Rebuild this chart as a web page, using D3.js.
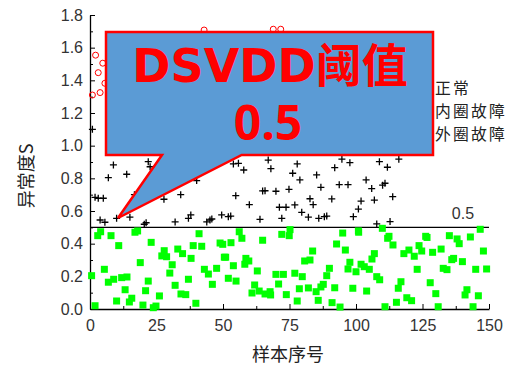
<!DOCTYPE html>
<html>
<head>
<meta charset="utf-8">
<script src="https://cdn.jsdelivr.net/npm/d3@7"></script>
<style>
  html, body { margin: 0; padding: 0; background: #fff; }
  svg { display: block; }
</style>
</head>
<body>
<svg id="chart" width="510" height="368"></svg>
<script>
// Anomaly scores per sample index, one array per bearing state
const normal = [
  [2.9,0.449],[4.0,0.473],[7.9,0.449],[10.8,0.388],[16.9,0.470],[17.9,0.478],[23.0,0.408],[27.9,0.357],[27.0,0.325],[28.8,0.320],
  [33.0,0.367],[34.8,0.339],[38.8,0.388],[42.0,0.384],[41.0,0.461],[38.0,0.310],[48.9,0.404],[50.5,0.317],[18.9,0.284],[30.9,0.271],
  [5.4,0.243],[0.6,0.204],[6.9,0.164],[8.9,0.182],[11.9,0.192],[13.9,0.196],[21.9,0.171],[30.0,0.220],[37.0,0.182],[43.0,0.243],
  [44.5,0.214],[47.6,0.249],[46.0,0.151],[32.0,0.145],[13.2,0.118],[20.9,0.112],[34.2,0.092],[36.0,0.088],[26.1,0.080],[15.7,0.066],
  [14.8,0.043],[10.0,0.049],[39.8,0.035],[1.9,0.020],[19.9,0.024],[24.8,0.018],[23.8,0.008],
  [56.1,0.473],[57.1,0.433],[49.9,0.396],[53.0,0.406],[64.9,0.421],[72.1,0.457],[75.2,0.486],[74.9,0.449],[95.0,0.465],[92.7,0.398],
  [96.0,0.361],[101.0,0.470],[83.7,0.355],[80.7,0.294],[82.7,0.300],[51.0,0.317],[58.6,0.310],[59.7,0.294],[58.2,0.274],[53.9,0.265],
  [62.9,0.233],[69.9,0.212],[72.7,0.212],[77.0,0.219],[79.8,0.198],[90.0,0.249],[89.0,0.204],[97.7,0.286],[97.0,0.245],[100.0,0.228],
  [52.0,0.188],[54.9,0.171],[61.9,0.147],[70.9,0.153],[78.7,0.124],[82.1,0.129],[87.7,0.151],[86.8,0.135],[92.0,0.130],[98.8,0.127],
  [60.9,0.098],[63.6,0.110],[65.8,0.092],[67.9,0.086],[67.7,0.106],[73.8,0.088],[85.0,0.106],[77.9,0.049],[85.8,0.053],[91.0,0.039],
  [94.0,0.012],
  [100.9,0.478],[109.9,0.494],[146.7,0.488],[112.4,0.445],[111.9,0.433],[126.2,0.445],[126.7,0.438],[135.1,0.449],[138.0,0.429],[138.8,0.400],
  [143.0,0.441],[113.9,0.392],[106.9,0.339],[106.0,0.306],[119.9,0.361],[118.0,0.339],[121.9,0.323],[123.7,0.388],[124.7,0.355],[128.8,0.347],
  [132.0,0.367],[136.7,0.310],[136.0,0.302],[140.0,0.290],[147.9,0.355],[101.9,0.274],[103.1,0.259],[105.0,0.243],[123.0,0.243],[132.8,0.249],
  [134.2,0.241],[145.0,0.243],[149.1,0.245],[107.8,0.198],[108.9,0.179],[116.9,0.167],[115.9,0.127],[127.9,0.161],[141.7,0.118],[141.0,0.086],
  [146.0,0.081],[104.0,0.110],[130.0,0.094],[119.1,0.069],[120.9,0.051],[115.2,0.041],[110.9,0.014],[130.9,0.014],[144.0,0.014]
];

const innerFault = [
  [0.9,1.100],[8.8,0.882],[6.9,0.804],[13.8,0.825],[21.9,0.902],[22.6,0.871],[1.9,0.684],[3.1,0.678],[5.0,0.678],[3.8,0.545],
  [5.6,0.531],[10.0,0.555],[15.0,0.562],[16.7,0.700],[27.8,0.672],[34.1,0.700],[40.1,0.786],[53.9,0.888],[55.8,0.892],[57.8,0.851],
  [54.8,0.694],[59.9,0.639],[32.0,0.533],[20.4,0.519],[21.1,0.528],[37.0,0.555],[37.9,0.576],[43.9,0.533],[45.1,0.545],[45.8,0.551],
  [49.5,0.576],[52.0,0.565],[52.9,0.569],
  [67.0,0.912],[68.0,0.859],[77.9,0.888],[76.2,0.831],[78.9,0.790],[85.2,0.821],[64.9,0.723],[65.8,0.724],[69.9,0.721],[74.8,0.733],
  [86.8,0.745],[94.7,0.917],[97.7,0.896],[92.0,0.865],[108.8,0.902],[111.8,0.868],[116.1,0.917],[93.7,0.761],[97.0,0.761],[103.8,0.790],
  [110.9,0.770],[110.0,0.758],[105.9,0.737],[113.8,0.688],[106.9,0.667],[101.9,0.661],[100.9,0.612],[90.9,0.674],[82.7,0.675],[83.9,0.639],
  [77.0,0.637],[73.7,0.623],[71.2,0.623],[79.6,0.592],[82.1,0.562],[86.0,0.555],[88.1,0.565],[89.0,0.569],[72.1,0.555],[63.9,0.549],
  [99.0,0.565],[112.8,0.535],[107.8,0.521]
];

const outerFault = [
  [2.1,1.554],[4.8,1.505],[3.1,1.447],[5.6,1.382],[0.9,1.310],[3.8,1.325],[42.9,1.708],[68.9,1.713],[71.7,1.713]
];

const threshold = 0.5;
const seriesNames = ["正常", "内圈故障", "外圈故障"];
const xTicks = [0, 25, 50, 75, 100, 125, 150];
const yTicks = [0, 0.2, 0.4, 0.6, 0.8, 1.0, 1.2, 1.4, 1.6, 1.8];
const calloutLines = ["DSVDD阈值", "0.5"];

const svg = d3.select("#chart");
svg.append("rect").attr("width", 510).attr("height", 368).attr("fill", "#fff");

const x = d3.scaleLinear().domain([0, 150]).range([90, 489]);
const y = d3.scaleLinear().domain([0, 1.8]).range([309, 15]);

const tickFont = "'Liberation Sans', Arial, sans-serif";
const cjkFont = "'Noto Sans CJK SC', 'Noto Sans', sans-serif";

// minor ticks
svg.append("g").attr("transform", `translate(0,${y(0)})`)
  .call(d3.axisBottom(x).tickValues(d3.range(12.5, 150, 25)).tickSize(-3).tickFormat(""))
  .call(g => g.select(".domain").remove());
svg.append("g").attr("transform", `translate(${x(0)},0)`)
  .call(d3.axisLeft(y).tickValues(d3.range(0.1, 1.8, 0.2)).tickSize(-3).tickFormat(""))
  .call(g => g.select(".domain").remove());

// major axes
const xAxis = svg.append("g").attr("transform", `translate(0,${y(0)})`)
  .call(d3.axisBottom(x).tickValues(xTicks).tickSize(-5).tickSizeOuter(0).tickPadding(11).tickFormat(d3.format("d")));
const yAxis = svg.append("g").attr("transform", `translate(${x(0)},0)`)
  .call(d3.axisLeft(y).tickValues(yTicks).tickSize(-5).tickSizeOuter(0).tickPadding(7).tickFormat(d3.format(".1f")));

[xAxis, yAxis].forEach(g => {
  g.select(".domain").attr("stroke", "#000").attr("stroke-width", 1.3);
  g.selectAll(".tick line").attr("stroke", "#000").attr("stroke-width", 1);
  g.selectAll(".tick text").attr("font-family", tickFont).attr("font-size", 16).attr("fill", "#333");
});
svg.selectAll(".tick line").attr("stroke", "#000");

// threshold line
svg.append("line")
  .attr("x1", x(0)).attr("x2", x(150))
  .attr("y1", y(threshold)).attr("y2", y(threshold))
  .attr("stroke", "#000").attr("stroke-width", 1.3);
svg.append("text")
  .attr("x", x(140.2)).attr("y", y(threshold) - 8)
  .attr("text-anchor", "middle")
  .attr("font-family", tickFont).attr("font-size", 16).attr("fill", "#333")
  .text(d3.format(".1f")(threshold));

// normal: green squares
const sq = 7;
svg.append("g").selectAll("rect").data(normal).join("rect")
  .attr("x", d => x(d[0]) - sq / 2).attr("y", d => y(d[1]) - sq / 2)
  .attr("width", sq).attr("height", sq)
  .attr("fill", "#00ff00");

// inner race fault: black plus signs
svg.append("g").selectAll("path").data(innerFault).join("path")
  .attr("transform", d => `translate(${x(d[0])},${y(d[1])})`)
  .attr("d", "M-3.5,0H3.5M0,-3.5V3.5")
  .attr("stroke", "#000").attr("stroke-width", 1.3).attr("fill", "none");

// outer race fault: red hollow circles
svg.append("g").selectAll("circle").data(outerFault).join("circle")
  .attr("cx", d => x(d[0])).attr("cy", d => y(d[1])).attr("r", 3)
  .attr("fill", "none").attr("stroke", "#ff0000").attr("stroke-width", 1);

// legend
const legend = svg.append("g").attr("transform", "translate(435,88)");
seriesNames.forEach((name, i) => {
  const row = legend.append("g").attr("transform", `translate(0,${i * 23})`);
  if (i === 0) row.append("rect").attr("x", -22).attr("y", -3.5).attr("width", sq).attr("height", sq).attr("fill", "#00ff00");
  if (i === 1) row.append("path").attr("d", "M-22,0H-15M-18.5,-3.5V3.5").attr("stroke", "#000").attr("stroke-width", 1.3);
  if (i === 2) row.append("circle").attr("cx", -18.5).attr("r", 3).attr("fill", "none").attr("stroke", "#ff0000");
  row.append("text").attr("x", 0).attr("y", 0).attr("dy", "0.36em")
    .attr("font-family", cjkFont).attr("font-size", 15.8).attr("letter-spacing", 2.2).attr("fill", "#222")
    .text(name);
});

// axis titles
svg.append("text")
  .attr("x", 288).attr("y", 355).attr("dy", "0.36em")
  .attr("text-anchor", "middle")
  .attr("font-family", cjkFont).attr("font-size", 18).attr("fill", "#222")
  .text("样本序号");
svg.append("text")
  .attr("transform", "translate(27,176) rotate(-90)")
  .attr("dy", "0.36em")
  .attr("text-anchor", "middle")
  .attr("font-family", cjkFont).attr("font-size", 18).attr("fill", "#222")
  .text("异常度S");

// callout pointing at the threshold region
const box = { left: 106, top: 32, right: 433, bottom: 155 };
const tip = [118, 218];
const callout = svg.append("g");
callout.append("path")
  .attr("d", `M${box.left},${box.top}H${box.right}V${box.bottom}H241.7L${tip[0]},${tip[1]}L162,${box.bottom}H${box.left}Z`)
  .attr("fill", "#5b9bd5").attr("stroke", "#ff0000").attr("stroke-width", 2.5)
  .attr("stroke-linejoin", "miter");
callout.append("text")
  .attr("x", 270).attr("y", 82)
  .attr("text-anchor", "middle")
  .attr("font-family", "'DejaVu Sans', 'Noto Sans CJK SC', sans-serif")
  .attr("font-weight", "bold").attr("font-size", 46).attr("fill", "#ff0000")
  .text(calloutLines[0]);
callout.append("text")
  .attr("x", 268).attr("y", 140)
  .attr("text-anchor", "middle")
  .attr("font-family", "'Open Sans', sans-serif")
  .attr("font-weight", "bold").attr("font-size", 48).attr("fill", "#ff0000")
  .text(calloutLines[1]);
</script>
</body>
</html>
